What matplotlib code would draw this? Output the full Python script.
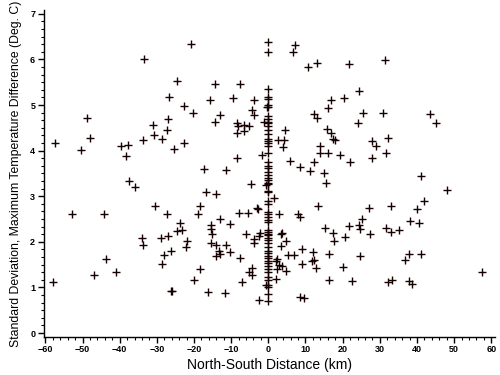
import matplotlib
matplotlib.use("Agg")
import matplotlib.pyplot as plt
from matplotlib.ticker import MultipleLocator, AutoMinorLocator

# stations off the centre line: north-south distance (km) and std. dev. (deg C)
dist_km = [
    -20.8, -33.4, -24.6, -26.6, -22.8, -48.8, -27.0, -30.9, -27.2, -30.8,
    -48.0, -28.7, -33.6, -57.5, -22.6, -39.6, -37.7, -50.4, -25.3, -38.4,
    -37.4, -35.8, -30.5, -52.7, -44.2, -27.4, -23.7, -24.5, -23.3, -34.0,
    -28.9, -27.0, -21.8, -33.6, -22.1, -26.1, -28.1, -43.7, -28.5, -46.8,
    -40.9, -57.9, -26.3, -25.8,
    7.2, 6.6, 10.7, 13.1, -14.3, -7.6, -15.6, -9.6, -3.8, 17.0,
    -0.4, -4.4, 16.0, -20.4, -13.1, -3.9, 12.3, 13.2, -14.3, -8.3,
    -6.5, -8.1, -5.3, -1.1, 4.6, -8.3, -6.5, 15.7, 16.8, 17.3,
    17.9, 2.7, 4.2, 4.0, 13.9, 14.0, 16.1, -1.7, -8.3, 5.9,
    8.6, 12.4, -17.4, -11.3, 11.3, 15.0,
    -4.6, -0.6, 15.4, -16.9, -14.0, 1.5, -18.4, 13.3, -19.0, -3.0,
    -2.7, -7.9, -5.6, 2.9, 7.9, 8.4, -13.1, -15.3, -10.4, -15.5,
    -15.1, -6.0, -2.2, -2.6, 3.3, 3.8, 15.3, 17.4, -15.4, -14.2,
    -11.5, -3.8, -3.8, 4.7, 17.6, 3.4, -13.4, -13.0, -10.2, -14.2,
    5.2, 6.8, 9.0, 11.9, 16.3, -7.6, 2.4, 2.2, 3.0, 9.1,
    11.7, 12.4, 12.9, -18.4, -4.3, 2.4, 3.8, 4.7, -5.1, -4.3,
    -20.0, -7.2, 2.0, 16.4, -0.5, -16.1, -11.6, 8.6, 9.5, -2.4,
    21.6, 31.3, 24.3, 20.4, 25.4, 30.8, 43.5, 45.2, 24.2, 32.3,
    28.0, 29.0, 19.4, 31.6, 22.0, 27.9,
    41.2, 48.1, 41.9, 27.0, 33.1, 40.0, 25.3, 38.1, 40.6, 21.8,
    24.3, 24.7, 31.6, 27.4, 32.9, 35.1, 20.5, 24.7, 37.9, 36.8,
    41.2, 20.2, 22.5, 32.3, 33.2, 37.9, 38.7, 57.4,
]
sd_temp = [
    6.34, 6.01, 5.52, 5.17, 4.98, 4.72, 4.70, 4.56, 4.45, 4.35,
    4.28, 4.26, 4.23, 4.16, 4.16, 4.10, 4.13, 4.02, 4.04, 3.89,
    3.33, 3.21, 2.79, 2.61, 2.60, 2.61, 2.42, 2.24, 2.26, 2.08,
    2.08, 2.12, 2.02, 1.93, 1.89, 1.79, 1.72, 1.63, 1.52, 1.27,
    1.33, 1.11, 0.92, 0.92,
    6.31, 6.17, 5.84, 5.91, 5.46, 5.47, 5.10, 5.15, 5.12, 5.10,
    4.96, 4.90, 4.93, 4.82, 4.78, 4.78, 4.81, 4.71, 4.63, 4.60,
    4.57, 4.54, 4.53, 4.63, 4.45, 4.38, 4.42, 4.47, 4.38, 4.26,
    4.23, 4.24, 4.23, 4.07, 4.10, 3.95, 3.95, 3.90, 3.84, 3.77,
    3.65, 3.76, 3.59, 3.57, 3.55, 3.51,
    3.27, 3.25, 3.28, 3.09, 3.06, 2.97, 2.79, 2.78, 2.61, 2.75,
    2.71, 2.64, 2.64, 2.61, 2.60, 2.55, 2.50, 2.38, 2.40, 2.29,
    2.18, 2.18, 2.19, 2.12, 2.17, 2.20, 2.30, 2.19, 1.98, 1.94,
    1.94, 2.06, 1.97, 2.01, 2.02, 1.90, 1.80, 1.74, 1.77, 1.70,
    1.71, 1.71, 1.85, 1.78, 1.74, 1.65, 1.62, 1.59, 1.50, 1.51,
    1.59, 1.61, 1.43, 1.40, 1.43, 1.41, 1.46, 1.36, 1.33, 1.27,
    1.17, 1.13, 1.19, 1.17, 1.05, 0.90, 0.89, 0.79, 0.77, 0.72,
    5.89, 5.98, 5.30, 5.16, 4.82, 4.83, 4.81, 4.61, 4.60, 4.27,
    4.21, 4.10, 3.91, 3.94, 3.76, 3.83,
    3.45, 3.14, 2.90, 2.74, 2.78, 2.71, 2.50, 2.46, 2.42, 2.34,
    2.38, 2.29, 2.30, 2.18, 2.21, 2.25, 2.11, 1.69, 1.74, 1.60,
    1.73, 1.44, 1.14, 1.11, 1.16, 1.14, 1.08, 1.33,
]

# stations sitting on the centre line (distance 0 km)
centre_sd = [
    6.38, 6.16, 5.36, 5.17, 5.14, 5.00, 4.96, 4.76, 4.69, 4.63,
    4.60, 4.54, 4.45, 4.36, 4.25, 4.21, 4.16, 4.10, 3.95, 3.76,
    3.67, 3.61, 3.54, 3.47, 3.41, 3.36, 3.30, 3.26, 3.12, 3.09,
    2.90, 2.82, 2.65, 2.61, 2.55, 2.48, 2.43, 2.25, 2.21, 2.18,
    2.14, 2.09, 2.03, 1.97, 1.88, 1.81, 1.75, 1.70, 1.65, 1.59,
    1.53, 1.46, 1.41, 1.34, 1.23, 1.17, 1.05, 1.01, 0.85, 0.71,
]
centre_dist = [0.0] * len(centre_sd)

x_ticks = [-60, -50, -40, -30, -20, -10, 0, 10, 20, 30, 40, 50, 60]
y_ticks = [0, 1, 2, 3, 4, 5, 6, 7]

plt.rcParams['font.family'] = ['Liberation Sans', 'DejaVu Sans']

fig = plt.figure(figsize=(5, 3.75), dpi=100)
ax = fig.add_axes([0.087, 0.102, 0.903, 0.871])

mark_col = '#160000'
ax.plot(dist_km, sd_temp, linestyle='none', marker='+', markersize=6,
        markeredgewidth=1.0, color=mark_col)
ax.plot(centre_dist, centre_sd, linestyle='none', marker='+', markersize=6,
        markeredgewidth=1.0, color=mark_col)

ax.set_xlim(-60.5, 61)
ax.set_ylim(-0.08, 7.08)
ax.set_xticks(x_ticks)
ax.set_yticks(y_ticks)
ax.xaxis.set_minor_locator(MultipleLocator(2))
ax.yaxis.set_minor_locator(AutoMinorLocator(6))

for side in ['top', 'right']:
    ax.spines[side].set_visible(False)
for side in ['left', 'bottom']:
    ax.spines[side].set_linewidth(1.0)

ax.tick_params(which='major', direction='out', length=4, width=1, pad=2,
               labelsize=6.5)
ax.tick_params(which='minor', direction='out', length=2, width=0.8)
for lbl in ax.get_xticklabels() + ax.get_yticklabels():
    lbl.set_fontweight('bold')

ax.set_xlabel('North-South Distance (km)', fontsize=10, labelpad=3)
ax.set_ylabel('Standard Deviation, Maximum Temperature Difference (Deg. C)',
              fontsize=8.8, labelpad=6)

fig.savefig('out.png', dpi=100)
